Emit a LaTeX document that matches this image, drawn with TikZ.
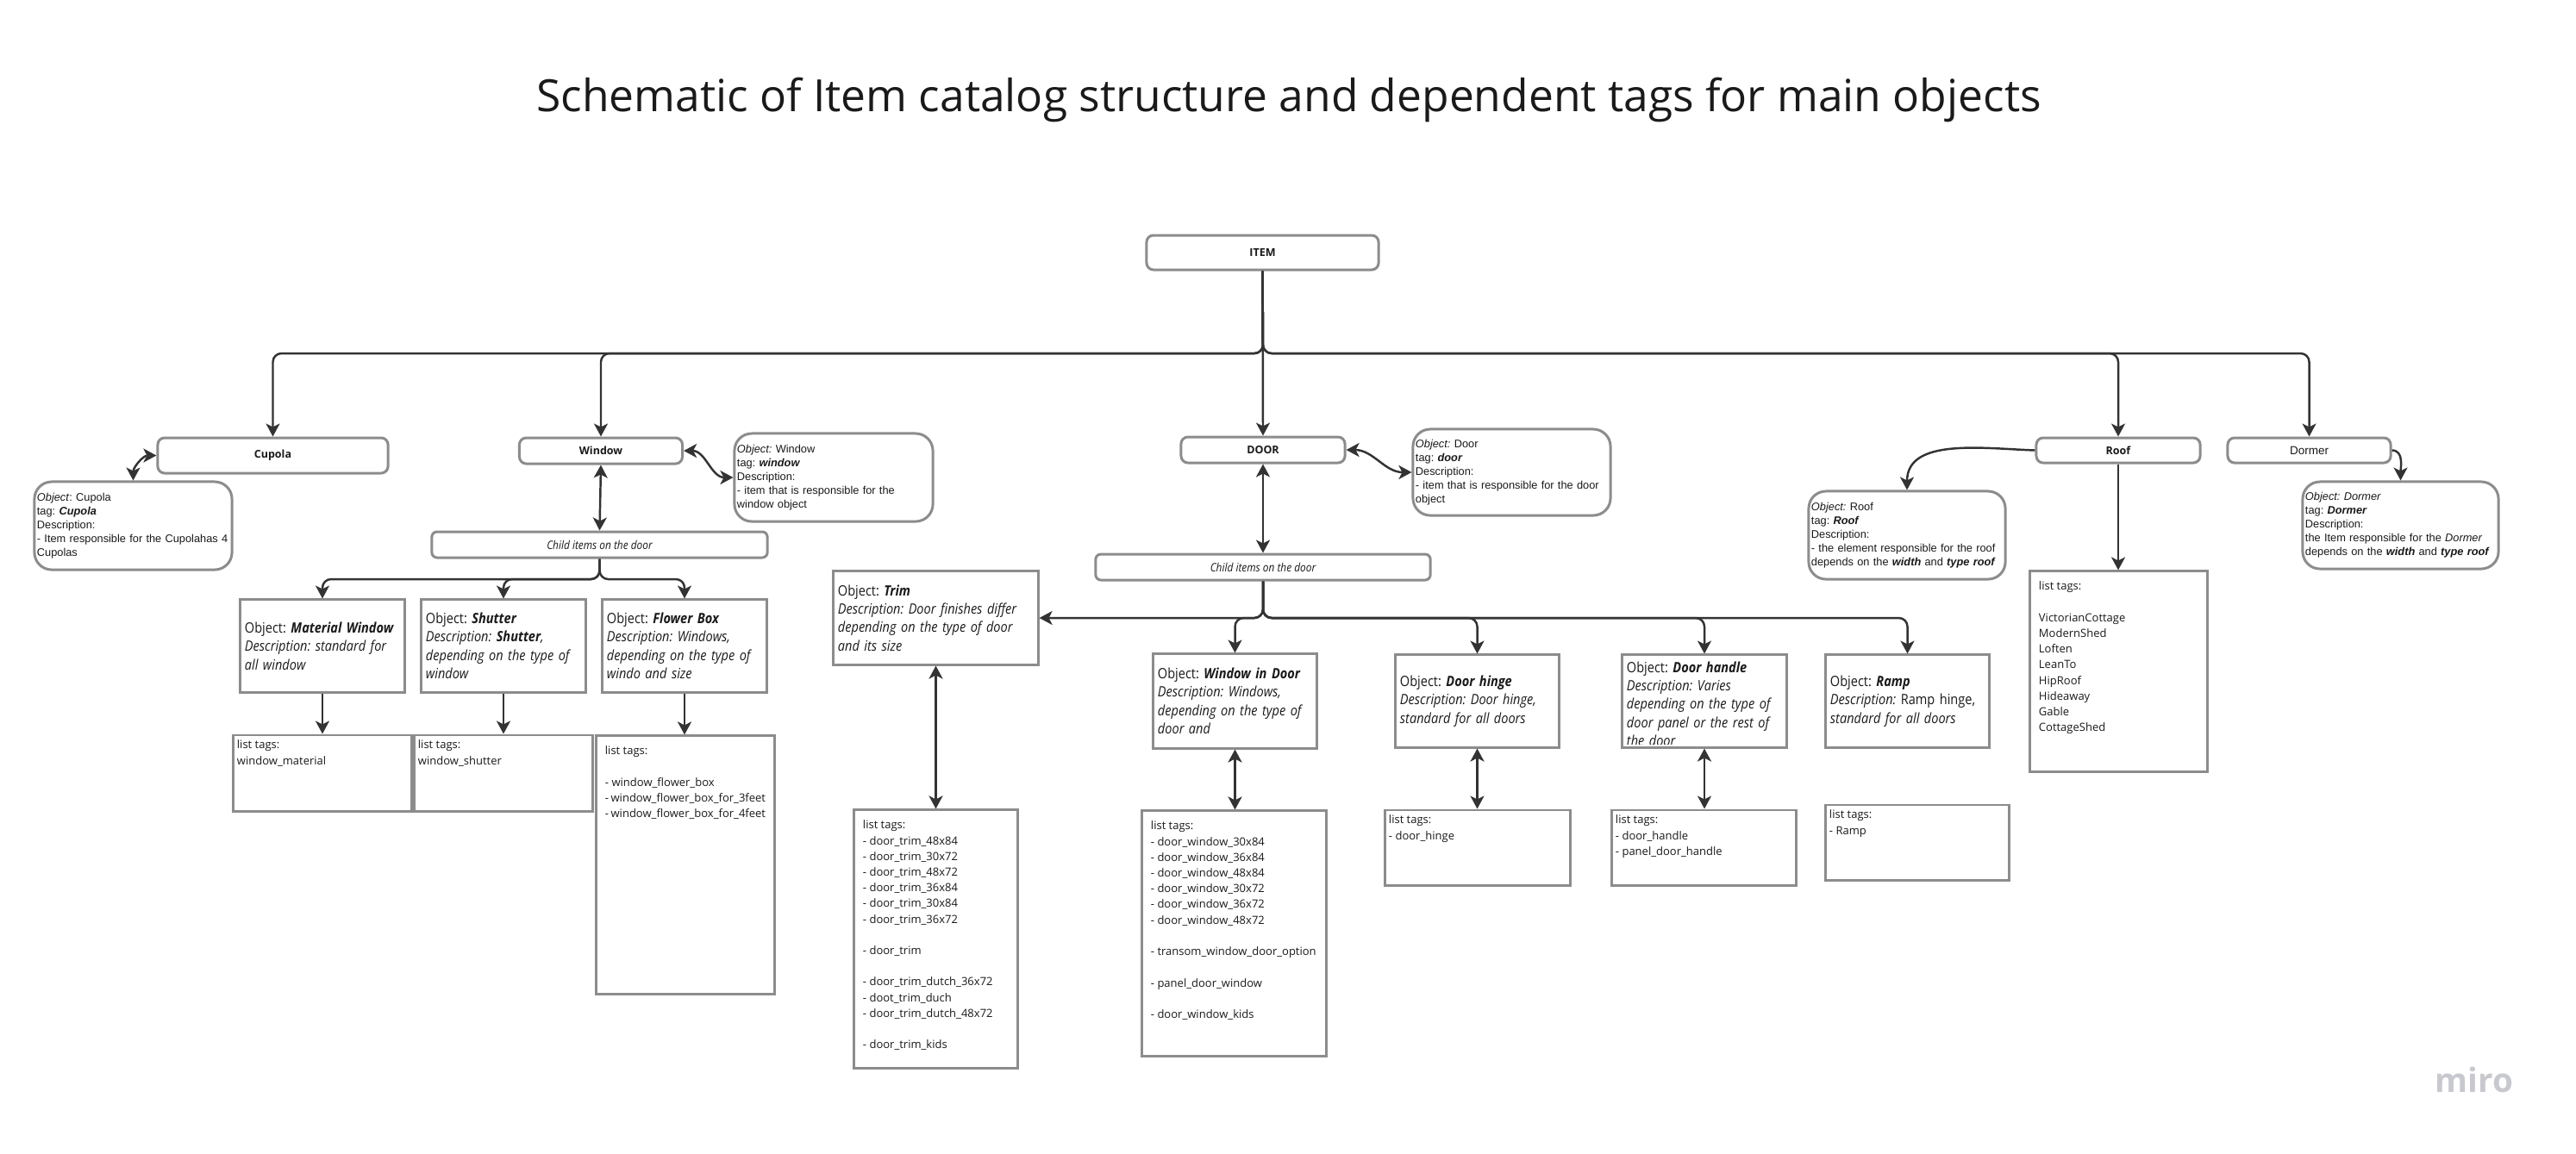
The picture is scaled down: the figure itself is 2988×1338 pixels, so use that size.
\documentclass[tikz,border=0pt]{standalone}
\usepackage{fontspec}
\setmainfont{Open Sans}
\newfontfamily\robofont{Liberation Sans}
\newfontfamily\condfont[FakeStretch=0.88]{Open Sans}
\usepackage{tikz}
\usetikzlibrary{arrows.meta}
\usetikzlibrary{calc}
\usetikzlibrary{positioning}

\definecolor{boxgray}{HTML}{8C8C8C}
\definecolor{linedark}{HTML}{333333}
\definecolor{inkblack}{HTML}{1A1A1A}
\definecolor{mirogray}{HTML}{C8C9CF}

% list text that starts at the top of its box
\newcommand{\toplist}[3]{\parbox[c][#2][t]{#1}{#3}}

\begin{document}
\frenchspacing
\begin{tikzpicture}[x=0.01cm, y=-0.01cm,
    >={Stealth[length=0.15cm,width=0.16cm,inset=0.04cm]},
    every node/.style={text=inkblack},
    hdr/.style={draw=boxgray, line width=0.85pt, rounded corners=0.08cm, fill=white, inner sep=0pt,
        font=\fontsize{3.56}{4.3}\selectfont\bfseries},
    desc/.style={draw=boxgray, line width=0.85pt, rounded corners=0.2cm, fill=white, align=left,
        inner xsep=0.03cm, inner ysep=0pt, font=\robofont\fontsize{3.64}{4.55}\selectfont},
    child/.style={draw=boxgray, line width=0.85pt, rounded corners=0.06cm, inner sep=0pt,
        font=\condfont\itshape\fontsize{3.84}{4.6}\selectfont},
    objbox/.style={draw=boxgray, line width=0.85pt, align=left, inner xsep=0.05cm, inner ysep=0pt,
        font=\condfont\fontsize{4.7}{6.1}\selectfont},
    smalllist/.style={draw=boxgray, line width=0.85pt, inner xsep=0.04cm, inner ysep=0.06cm,
        font=\fontsize{3.7}{5.18}\selectfont},
    biglist/.style={smalllist, inner xsep=0.10cm, inner ysep=0.12cm},
    conn/.style={draw=linedark, line width=0.7pt, ->, rounded corners=0.1cm},
    dconn/.style={conn, <->}
]
\useasboundingbox (0,0) rectangle (2988,1338);
\fill[white] (0,0) rectangle (2988,1338);

\node[font=\fontsize{14.65}{16}\selectfont] (title) at (1495,116)
    {Schematic of Item catalog structure and dependent tags for main objects};

% main objects
\node[hdr, minimum width=2.69cm, minimum height=0.40cm] (item) at (1464.5,293) {ITEM};
\node[hdr, minimum width=2.67cm, minimum height=0.41cm] (cupola) at (316.5,528.5) {Cupola};
\node[hdr, minimum width=1.89cm, minimum height=0.30cm] (window) at (697,523) {Window};
\node[hdr, minimum width=1.90cm, minimum height=0.30cm] (door) at (1465,522) {DOOR};
\node[hdr, minimum width=1.90cm, minimum height=0.29cm] (roof) at (2457,522.5) {Roof};
\node[hdr, minimum width=1.89cm, minimum height=0.29cm,
    font=\robofont\fontsize{3.84}{4.6}\selectfont] (dormer) at (2678.5,522.5) {Dormer};

% descriptions
\node[desc, minimum width=2.29cm, minimum height=1.02cm, text width=2.23cm] (cupdesc) at (154.5,610)
    {\textit{Object}: Cupola\\ tag: \textbf{\textit{Cupola}}\\ Description:\\
     - Item responsible for the Cupolahas~4\\ Cupolas};
\node[desc, minimum width=2.30cm, minimum height=1.02cm, text width=2.24cm] (windesc) at (967,554)
    {\textit{Object:} Window\\ tag: \textbf{\textit{window}}\\ Description:\\
     - item that is responsible for the\\ window object};
\node[desc, minimum width=2.29cm, minimum height=1.00cm, text width=2.23cm] (doordesc) at (1753.5,548)
    {\textit{Object:} Door\\ tag: \textbf{\textit{door}}\\ Description:\\
     - item that is responsible for the door\\ object};
\node[desc, minimum width=2.28cm, minimum height=1.02cm, text width=2.22cm] (roofdesc) at (2212,621)
    {\textit{Object:} Roof\\ tag: \textbf{\textit{Roof}}\\ Description:\\
     - the element responsible for the roof\\
     depends on the \textbf{\textit{width}} and \textbf{\textit{type roof}}};
\node[desc, minimum width=2.27cm, minimum height=1.01cm, text width=2.21cm] (dormdesc) at (2784.5,609.5)
    {\textit{Object: Dormer}\\ tag: \textbf{\textit{Dormer}}\\ Description:\\
     the Item responsible for the \textit{Dormer}\\
     depends on the \textbf{\textit{width}} and \textbf{\textit{type roof}}};

% child items
\node[child, minimum width=3.89cm, minimum height=0.30cm] (winchild) at (695.5,632) {Child items on the door};
\node[child, minimum width=3.88cm, minimum height=0.30cm] (doorchild) at (1465,658) {Child items on the door};

% window parts
\node[objbox, minimum width=1.90cm, minimum height=1.07cm, text width=1.80cm] (material) at (374,749.5)
    {Object: \textbf{\textit{Material Window}}\\ \textit{Description: standard for}\\ \textit{all window}};
\node[objbox, minimum width=1.90cm, minimum height=1.07cm, text width=1.80cm] (shutter) at (584,749.5)
    {Object: \textbf{\textit{Shutter}}\\ \textit{Description: \textbf{Shutter},}\\
     \textit{depending on the type of}\\ \textit{window}};
\node[objbox, minimum width=1.90cm, minimum height=1.07cm, text width=1.80cm] (flower) at (794,749.5)
    {Object: \textbf{\textit{Flower Box}}\\ \textit{Description: Windows,}\\
     \textit{depending on the type of}\\ \textit{windo and size}};

\node[smalllist] (matlist) at (374,897) {\toplist{1.98cm}{0.76cm}{list tags:\\ window\_material}};
\node[smalllist] (shutlist) at (584,897) {\toplist{1.98cm}{0.76cm}{list tags:\\ window\_shutter}};
\node[biglist] (flowlist) at (795,1003.5) {\toplist{1.86cm}{2.75cm}{list tags:\\[5.18pt]
    - window\_flower\_box\\ - window\_flower\_box\_for\_3feet\\ - window\_flower\_box\_for\_4feet}};

% door parts
\node[objbox, minimum width=2.37cm, minimum height=1.08cm, text width=2.27cm] (trim) at (1085.5,717)
    {Object: \textbf{\textit{Trim}}\\ \textit{Description: Door finishes differ}\\
     \textit{depending on the type of door}\\ \textit{and its size}\\[3pt]};
\node[objbox, minimum width=1.89cm, minimum height=1.09cm, text width=1.79cm] (windoor) at (1432.5,813.5)
    {Object: \textbf{\textit{Window in Door}}\\ \textit{Description: Windows,}\\
     \textit{depending on the type of}\\ \textit{door and}};
\node[objbox, minimum width=1.89cm, minimum height=1.07cm, text width=1.79cm] (hinge) at (1713.5,813.5)
    {Object: \textbf{\textit{Door hinge}}\\ \textit{Description: Door hinge,}\\ \textit{standard for all doors}};
\node[objbox, minimum width=1.90cm, minimum height=1.07cm] (handle) at (1977,813.5) {};
\begin{scope}
    \clip (handle.north west) rectangle ([yshift=0.055cm]handle.south east);
    \node[objbox, draw=none, anchor=north west, text width=1.80cm] (handletext)
        at ([yshift=-0.075cm]handle.north west)
        {Object: \textbf{\textit{Door handle}}\\ \textit{Description: Varies}\\
         \textit{depending on the type of}\\ \textit{door panel or the rest of}\\ \textit{the door}};
\end{scope}
\node[objbox, minimum width=1.89cm, minimum height=1.07cm, text width=1.79cm] (ramp) at (2212.5,813.5)
    {Object: \textbf{\textit{Ramp}}\\ \textit{Description:} Ramp hinge,\\ \textit{standard for all doors}};

\node[biglist] (trimlist) at (1085.5,1089.5) {\toplist{1.69cm}{2.75cm}{list tags:\\
    - door\_trim\_48x84\\ - door\_trim\_30x72\\ - door\_trim\_48x72\\ - door\_trim\_36x84\\
    - door\_trim\_30x84\\ - door\_trim\_36x72\\[5.18pt] - door\_trim\\[5.18pt]
    - door\_trim\_dutch\_36x72\\ - doot\_trim\_duch\\ - door\_trim\_dutch\_48x72\\[5.18pt]
    - door\_trim\_kids}};
\node[biglist] (windoorlist) at (1431.5,1083) {\toplist{1.93cm}{2.60cm}{list tags:\\
    - door\_window\_30x84\\ - door\_window\_36x84\\ - door\_window\_48x84\\ - door\_window\_30x72\\
    - door\_window\_36x72\\ - door\_window\_48x72\\[5.18pt] - transom\_window\_door\_option\\[5.18pt]
    - panel\_door\_window\\[5.18pt] - door\_window\_kids}};
\node[smalllist] (hingelist) at (1714,983.5) {\toplist{2.06cm}{0.75cm}{list tags:\\ - door\_hinge}};
\node[smalllist] (handlelist) at (1976.5,983.5) {\toplist{2.05cm}{0.75cm}{list tags:\\
    - door\_handle\\ - panel\_door\_handle}};
\node[smalllist] (ramplist) at (2224,977.5) {\toplist{2.04cm}{0.75cm}{list tags:\\ - Ramp}};

% roof tags
\node[biglist] (rooflist) at (2457.5,779) {\toplist{1.85cm}{2.08cm}{list tags:\\[5.18pt]
    VictorianCottage\\ ModernShed\\ Loften\\ LeanTo\\ HipRoof\\ Hideaway\\ Gable\\ CottageShed}};

\node[font=\fontsize{11}{12}\selectfont\bfseries, text=mirogray] (miro) at (2870,1253) {miro};

% connectors from ITEM
\coordinate (itembus) at (1465,410);
\draw[conn] (item.south) -- (itembus) -| (cupola.north);
\draw[conn] (item.south) -- (itembus) -| (window.north);
\draw[conn] (item.south) -- (door.north);
\draw[conn] (item.south) -- (itembus) -| (roof.north);
\draw[conn] (item.south) -- (itembus) -| (dormer.north);

\draw[dconn] (cupola.west) to[out=180,in=90] (cupdesc.north);
\draw[dconn] (window.east) to[out=0,in=180] (windesc.west);
\draw[dconn] (door.east) to[out=0,in=180] (doordesc.west);
\draw[conn] (roof.west) to[out=178,in=90] (roofdesc.north);
\draw[conn] (dormer.east) to[out=0,in=90] (dormdesc.north);

% window branch
\draw[dconn] (window.south) -- (winchild.north);
\coordinate (winbus) at (695.5,672);
\draw[conn] (winchild.south) -- (winbus) -| (material.north);
\draw[conn] (winchild.south) -- (winbus) -| (shutter.north);
\draw[conn] (winchild.south) -- (winbus) -| (flower.north);
\draw[conn] (material.south) -- (material.south |- matlist.north);
\draw[conn] (shutter.south) -- (shutter.south |- shutlist.north);
\draw[conn] (flower.south) -- (flower.south |- flowlist.north);

% door branch
\draw[dconn] (door.south) -- (doorchild.north);
\coordinate (doorbus) at (1465,717);
\draw[conn] (doorchild.south) -- (doorbus) -- (trim.east);
\draw[conn] (doorchild.south) -- (doorbus) -| (windoor.north);
\draw[conn] (doorchild.south) -- (doorbus) -| (hinge.north);
\draw[conn] (doorchild.south) -- (doorbus) -| (handle.north);
\draw[conn] (doorchild.south) -- (doorbus) -| (ramp.north);
\draw[dconn] (trim.south) -- (trim.south |- trimlist.north);
\draw[dconn] (windoor.south) -- (windoor.south |- windoorlist.north);
\draw[dconn] (hinge.south) -- (hinge.south |- hingelist.north);
\draw[dconn] (handle.south) -- (handle.south |- handlelist.north);

% roof branch
\draw[conn] (roof.south) -- (roof.south |- rooflist.north);
\end{tikzpicture}
\end{document}
